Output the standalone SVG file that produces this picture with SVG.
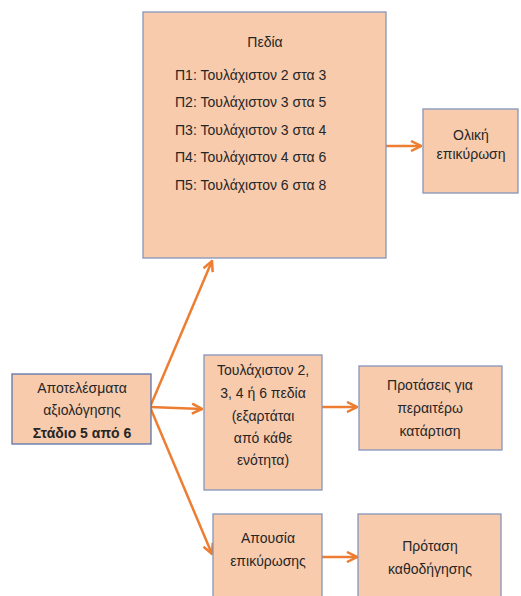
<svg xmlns="http://www.w3.org/2000/svg" width="521" height="596" viewBox="0 0 521 596">
<defs>
<style>
.box{fill:#F8CBAD;stroke:#8596BA;stroke-width:1.3}
.box2{fill:#F8CBAD;stroke:#5A74A8;stroke-width:1.3}
text{font-family:"Liberation Sans","Noto Sans",sans-serif;font-size:14px;fill:#262626}
.c{text-anchor:middle}
.b{font-weight:bold}
.con{stroke:#ED7D31;stroke-width:2.5;fill:none;marker-end:url(#ah)}
</style>
<marker id="ah" viewBox="0 0 10 10" refX="9" refY="5" markerWidth="5" markerHeight="5" orient="auto" markerUnits="strokeWidth">
<path d="M1,1 L9,5 L1,9" fill="none" stroke="#ED7D31" stroke-width="2" stroke-linejoin="miter"/>
</marker>
</defs>
<rect width="521" height="596" fill="#ffffff"/>
<g id="connectors">
<line class="con" x1="150" y1="407" x2="212" y2="261"/>
<line class="con" x1="150" y1="407" x2="202" y2="409"/>
<line class="con" x1="150" y1="407" x2="212" y2="554"/>
<line class="con" x1="386" y1="146" x2="421" y2="146"/>
<line class="con" x1="322" y1="407" x2="357" y2="407"/>
<line class="con" x1="322" y1="557" x2="357" y2="557"/>
</g>
<g id="pedia">
<rect class="box" x="143" y="12" width="243" height="246"/>
<text class="c" x="265" y="47">Πεδία</text>
<text x="175" y="80">Π1: Τουλάχιστον 2 στα 3</text>
<text x="175" y="107">Π2: Τουλάχιστον 3 στα 5</text>
<text x="175" y="135">Π3: Τουλάχιστον 3 στα 4</text>
<text x="175" y="162">Π4: Τουλάχιστον 4 στα 6</text>
<text x="175" y="190">Π5: Τουλάχιστον 6 στα 8</text>
</g>
<g id="oliki">
<rect class="box" x="423" y="109" width="95" height="84"/>
<text class="c" x="471" y="140">Ολική</text>
<text class="c" x="471" y="159">επικύρωση</text>
</g>
<g id="apotelesmata">
<rect class="box2" x="12" y="374" width="139" height="70"/>
<text class="c" x="82" y="393">Αποτελέσματα</text>
<text class="c" x="82" y="415">αξιολόγησης</text>
<text class="c b" x="82" y="438">Στάδιο 5 από 6</text>
</g>
<g id="toulaxiston">
<rect class="box" x="204" y="355" width="118" height="135"/>
<text class="c" x="263" y="375">Τουλάχιστον 2,</text>
<text class="c" x="263" y="398">3, 4 ή 6 πεδία</text>
<text class="c" x="263" y="421">(εξαρτάται</text>
<text class="c" x="263" y="443">από κάθε</text>
<text class="c" x="263" y="465">ενότητα)</text>
</g>
<g id="protaseis">
<rect class="box" x="359" y="366" width="143" height="84"/>
<text class="c" x="430" y="390">Προτάσεις για</text>
<text class="c" x="430" y="413">περαιτέρω</text>
<text class="c" x="430" y="436">κατάρτιση</text>
</g>
<g id="apousia">
<rect class="box" x="213" y="514" width="109" height="90"/>
<text class="c" x="268" y="543">Απουσία</text>
<text class="c" x="268" y="566">επικύρωσης</text>
</g>
<g id="protasi">
<rect class="box" x="358" y="514" width="143" height="90"/>
<text class="c" x="430" y="551">Πρόταση</text>
<text class="c" x="430" y="574">καθοδήγησης</text>
</g>
</svg>
